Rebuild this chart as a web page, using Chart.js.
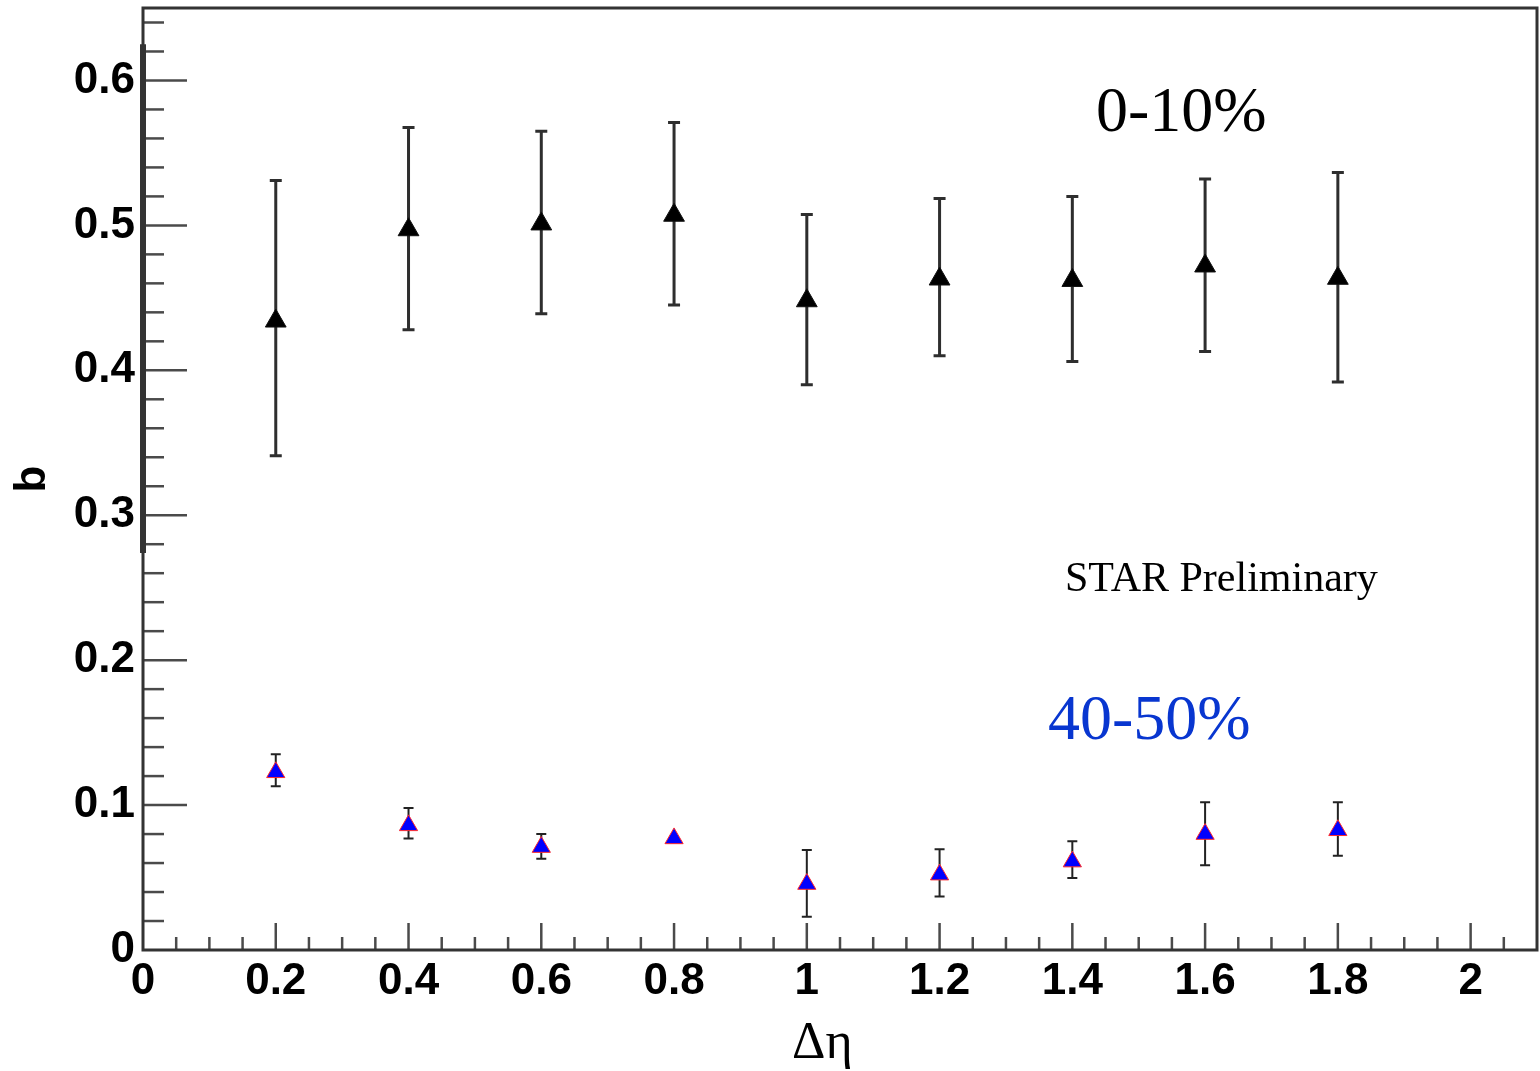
<!DOCTYPE html>
<html>
<head>
<meta charset="utf-8">
<title>b vs delta eta</title>
<script src="https://cdn.jsdelivr.net/npm/chart.js@4.4.1/dist/chart.umd.min.js"></script>
<style>
  html, body { margin: 0; padding: 0; background: #fff; }
  canvas { display: block; }
</style>
</head>
<body>
<canvas id="plot" width="1540" height="1071"></canvas>
<script>
// delta-eta bin centres
const deta = [0.2, 0.4, 0.6, 0.8, 1.0, 1.2, 1.4, 1.6, 1.8];

// 0-10% centrality: value, lower and upper end of the error bar
const bCentral   = [0.434, 0.497, 0.501, 0.507, 0.448, 0.463, 0.462, 0.472, 0.4635];
const bCentralLo = [0.341, 0.428, 0.439, 0.445, 0.390, 0.410, 0.406, 0.413, 0.392];
const bCentralHi = [0.531, 0.5675, 0.565, 0.571, 0.5075, 0.5185, 0.520, 0.532, 0.5365];

// 40-50% centrality
const bPeriph   = [0.1226, 0.086, 0.071, 0.077, 0.0455, 0.052, 0.061, 0.080, 0.0826];
const bPeriphLo = [0.113, 0.077, 0.063, 0.077, 0.023, 0.037, 0.0496, 0.0585, 0.065];
const bPeriphHi = [0.135, 0.098, 0.080, 0.077, 0.069, 0.0696, 0.075, 0.102, 0.102];

const xTicks = [0, 0.2, 0.4, 0.6, 0.8, 1, 1.2, 1.4, 1.6, 1.8, 2];
const yTicks = [0, 0.1, 0.2, 0.3, 0.4, 0.5, 0.6];

const LABEL_FONT = { family: "'Liberation Sans', Arial, sans-serif", size: 44, weight: 'bold' };
const SERIF = "'Liberation Serif', 'Times New Roman', serif";

function points(xs, ys) {
  return xs.map((x, i) => ({ x: x, y: ys[i] }));
}

// vertical error bars with small caps, drawn under the markers
const errorBars = {
  id: 'errorBars',
  beforeDatasetsDraw(chart) {
    const ctx = chart.ctx;
    const xs = chart.scales.x, ys = chart.scales.y;
    const sets = [
      { lo: bCentralLo, hi: bCentralHi, color: '#2e2e2e', width: 3, cap: 12 },
      { lo: bPeriphLo, hi: bPeriphHi, color: '#222', width: 2, cap: 10 }
    ];
    ctx.save();
    sets.forEach(s => {
      ctx.strokeStyle = s.color;
      ctx.lineWidth = s.width;
      deta.forEach((x, i) => {
        if (s.hi[i] === s.lo[i]) return;
        const px = xs.getPixelForValue(x);
        const top = ys.getPixelForValue(s.hi[i]);
        const bot = ys.getPixelForValue(s.lo[i]);
        ctx.beginPath();
        ctx.moveTo(px, top); ctx.lineTo(px, bot);
        ctx.moveTo(px - s.cap / 2, top); ctx.lineTo(px + s.cap / 2, top);
        ctx.moveTo(px - s.cap / 2, bot); ctx.lineTo(px + s.cap / 2, bot);
        ctx.stroke();
      });
    });
    ctx.restore();
  }
};

// frame and inward-pointing ticks
const frame = {
  id: 'frame',
  beforeDatasetsDraw(chart) {
    const ctx = chart.ctx;
    const a = chart.chartArea;
    const xs = chart.scales.x, ys = chart.scales.y;
    ctx.save();
    ctx.strokeStyle = '#4a4a4a';
    ctx.lineWidth = 2.5;
    // x ticks every 0.05, longer on labelled values
    for (let k = 1; k <= 41; k++) {
      const v = k * 0.05;
      const px = xs.getPixelForValue(v);
      const len = (k % 4 === 0) ? 27 : 13;
      ctx.beginPath();
      ctx.moveTo(px, a.bottom); ctx.lineTo(px, a.bottom - len);
      ctx.stroke();
    }
    // y ticks every 0.02, longer every 0.1
    for (let k = 1; k <= 32; k++) {
      const v = k * 0.02;
      const py = ys.getPixelForValue(v);
      const len = (k % 5 === 0) ? 44 : 21;
      ctx.beginPath();
      ctx.moveTo(a.left, py); ctx.lineTo(a.left + len, py);
      ctx.stroke();
    }
    ctx.strokeStyle = '#333';
    ctx.lineWidth = 3;
    ctx.strokeRect(a.left, a.top, a.right - a.left, a.bottom - a.top);
    // heavier stretch of the left axis
    ctx.lineWidth = 6;
    ctx.beginPath();
    ctx.moveTo(a.left, ys.getPixelForValue(0.625));
    ctx.lineTo(a.left, ys.getPixelForValue(0.274));
    ctx.stroke();
    ctx.restore();
  }
};

const labels = {
  id: 'labels',
  afterDraw(chart) {
    const ctx = chart.ctx;
    ctx.save();
    ctx.textBaseline = 'alphabetic';
    ctx.textAlign = 'left';
    ctx.fillStyle = '#000';
    ctx.font = '64px ' + SERIF;
    ctx.fillText('0-10%', 1096, 131);
    ctx.font = '42px ' + SERIF;
    ctx.fillText('STAR Preliminary', 1065, 591);
    ctx.fillStyle = '#0836d0';
    ctx.font = '64px ' + SERIF;
    ctx.fillText('40-50%', 1048, 739);
    ctx.fillStyle = '#000';
    ctx.font = '52px ' + SERIF;
    ctx.fillText('\u0394\u03b7', 792, 1058);
    ctx.restore();
  }
};

new Chart(document.getElementById('plot'), {
  type: 'scatter',
  data: {
    datasets: [
      {
        label: '0-10%',
        data: points(deta, bCentral),
        pointStyle: 'triangle',
        pointRadius: 12,
        backgroundColor: '#000',
        borderColor: '#111',
        borderWidth: 1
      },
      {
        label: '40-50%',
        data: points(deta, bPeriph),
        pointStyle: 'triangle',
        pointRadius: 10.5,
        backgroundColor: '#0000ff',
        borderColor: '#ff2a2a',
        borderWidth: 1
      }
    ]
  },
  options: {
    responsive: false,
    devicePixelRatio: 1,
    animation: false,
    events: [],
    layout: { autoPadding: false, padding: { top: 8, right: 3, left: 0, bottom: 0 } },
    plugins: {
      legend: { display: false },
      tooltip: { enabled: false }
    },
    scales: {
      x: {
        type: 'linear',
        min: 0,
        max: 2.1,
        grid: { display: false, drawTicks: false },
        border: { display: false },
        afterBuildTicks: s => { s.ticks = xTicks.map(v => ({ value: v })); },
        afterFit: s => { s.height = 121; s.paddingLeft = 0; s.paddingRight = 0; },
        ticks: {
          color: '#000',
          font: LABEL_FONT,
          padding: 5,
          maxRotation: 0,
          autoSkip: false,
          callback: v => String(Math.round(v * 10) / 10)
        }
      },
      y: {
        type: 'linear',
        min: 0,
        max: 0.65,
        grid: { display: false, drawTicks: false },
        border: { display: false },
        afterBuildTicks: s => { s.ticks = yTicks.map(v => ({ value: v })); },
        afterFit: s => { s.width = 143; s.paddingTop = 0; s.paddingBottom = 0; },
        title: {
          display: true,
          text: 'b',
          color: '#000',
          font: LABEL_FONT,
          padding: { top: 6, bottom: 0 }
        },
        ticks: {
          color: '#000',
          font: LABEL_FONT,
          padding: 8,
          autoSkip: false,
          callback: v => String(Math.round(v * 10) / 10)
        }
      }
    }
  },
  plugins: [frame, errorBars, labels]
});
</script>
</body>
</html>
